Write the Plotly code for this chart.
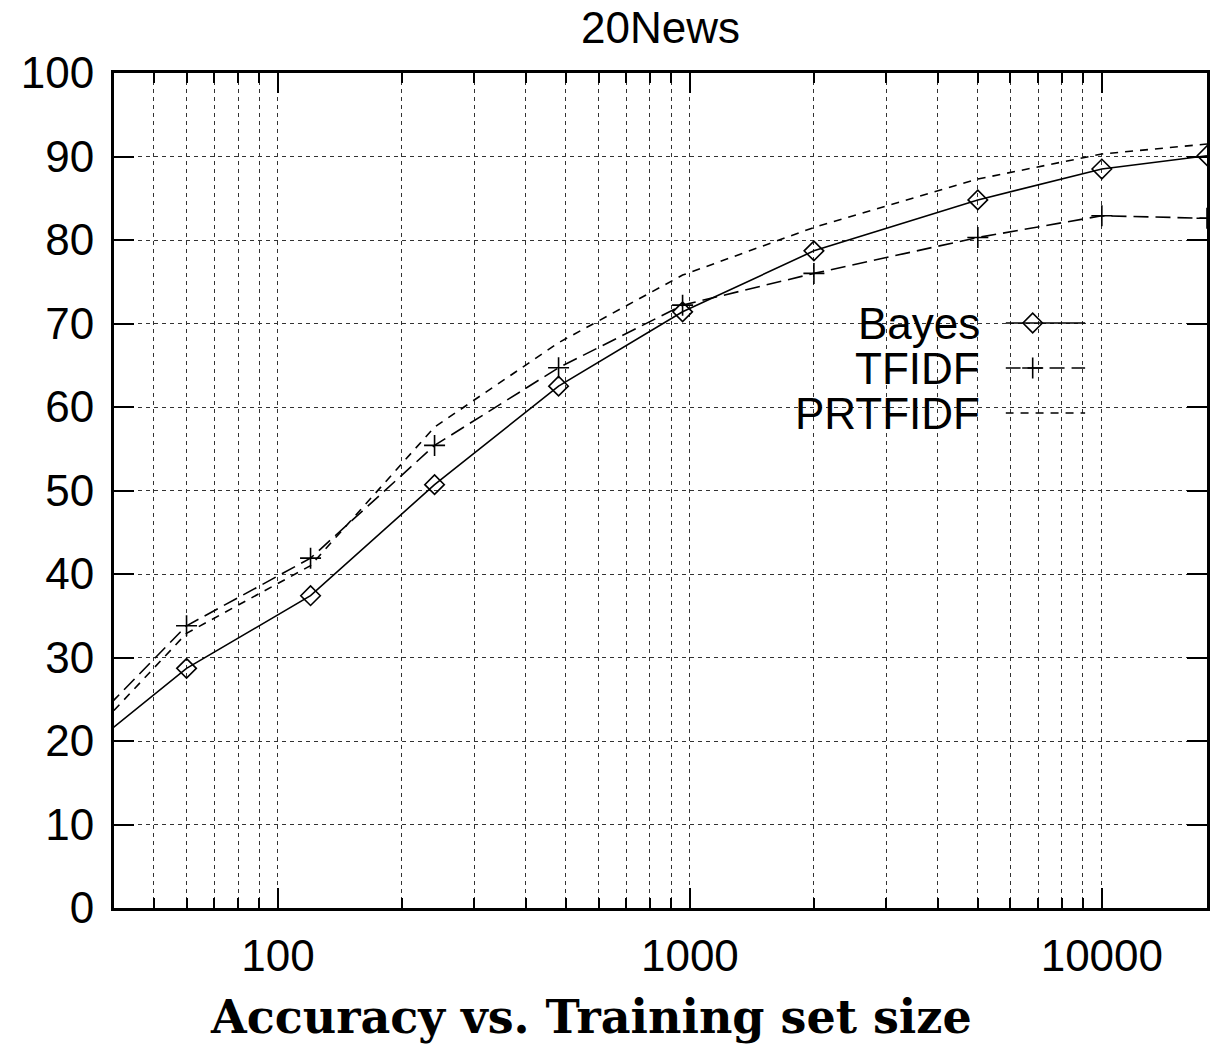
import plotly.graph_objects as go

# ---- data ----
train_size = [30, 60, 120, 240, 480, 960, 2000, 5000, 10000, 18000]
bayes = [16.7, 28.7, 37.4, 50.7, 62.5, 71.4, 78.7, 84.8, 88.5, 90.1]
tfidf = [18.6, 33.8, 41.9, 55.4, 64.7, 72.2, 76.0, 80.3, 82.9, 82.6]
prtfidf = [17.1, 32.9, 41.0, 57.6, 67.7, 75.8, 81.5, 87.3, 90.3, 91.5]

series_names = ["Bayes", "TFIDF", "PRTFIDF"]
x_tick_labels = ["100", "1000", "10000"]

# ---- styles ----
SANS = "Liberation Sans, Arial, sans-serif"
SERIF = "DejaVu Serif, Liberation Serif, serif"
FS = 44
styles = {
    "Bayes": dict(dash="solid", symbol="diamond-open", size=15),
    "TFIDF": dict(dash="15px,7px", symbol="cross-thin-open", size=15),
    "PRTFIDF": dict(dash="8px,7px", symbol=None, size=0),
}
values = {"Bayes": bayes, "TFIDF": tfidf, "PRTFIDF": prtfidf}

fig = go.Figure()
for name in series_names:
    st = styles[name]
    fig.add_trace(go.Scatter(
        x=train_size, y=values[name], name=name,
        mode="lines+markers" if st["symbol"] else "lines",
        line=dict(color="black", width=1.6, dash=st["dash"]),
        marker=dict(symbol=st["symbol"] or "circle", size=st["size"], color="black",
                    line=dict(color="black", width=1.6)),
        showlegend=False,
    ))

# ---- legend (text left of sample, gnuplot style) ----
legend_rows_y = [70.06, 64.67, 59.28]
legend_sample_x = [0, 0.34, 1]
for name, ly in zip(series_names, legend_rows_y):
    st = styles[name]
    fig.add_trace(go.Scatter(
        x=legend_sample_x, y=[ly] * 3, xaxis="x2", yaxis="y2",
        mode="lines+markers" if st["symbol"] else "lines",
        line=dict(color="black", width=1.6, dash=st["dash"]),
        marker=dict(symbol=st["symbol"] or "circle", size=st["size"], color="black",
                    opacity=[0, 1, 0], line=dict(color="black", width=1.6)),
        showlegend=False, hoverinfo="skip",
    ))
    fig.add_annotation(text=name, xref="paper", yref="y", x=0.7945, y=ly,
                       xanchor="right", yanchor="middle", showarrow=False,
                       font=dict(family=SANS, size=FS, color="black"))

grid_dash = "4px,4px"
fig.update_layout(
    width=1211, height=1047,
    margin=dict(l=114, r=1, t=73, b=139),
    paper_bgcolor="white", plot_bgcolor="rgba(0,0,0,0)",
    title=dict(text="20News", x=0.5, xref="paper", xanchor="center",
               y=1 - 28 / 1047, yref="container", yanchor="middle",
               font=dict(family=SANS, size=FS, color="black")),
    xaxis=dict(
        type="log", range=[1.60206, 4.25527],
        tickmode="array", tickvals=[100, 1000, 10000], ticktext=x_tick_labels,
        ticks="inside", ticklen=20, tickwidth=2, tickcolor="black",
        showline=True, linewidth=3, linecolor="black", mirror="allticks",
        showgrid=True, gridcolor="#333", gridwidth=1, griddash=grid_dash,
        minor=dict(tickmode="linear", tick0=0, dtick="D1", ticks="inside", ticklen=10,
                   tickwidth=2, tickcolor="black", showgrid=True,
                   gridcolor="#333", gridwidth=1, griddash=grid_dash),
        tickfont=dict(family=SANS, size=FS, color="black"),
        ticklabelstandoff=7, zeroline=False,
    ),
    yaxis=dict(
        range=[0, 100], tickmode="linear", tick0=0, dtick=10,
        ticks="inside", ticklen=20, tickwidth=2, tickcolor="black",
        showline=True, linewidth=3, linecolor="black", mirror="allticks",
        showgrid=True, gridcolor="#333", gridwidth=1, griddash=grid_dash,
        tickfont=dict(family=SANS, size=FS, color="black"),
        ticklabelstandoff=8, zeroline=False,
    ),
    xaxis2=dict(domain=[0.8157, 0.8887], range=[0, 1], anchor="y2",
                visible=False, showgrid=False, zeroline=False),
    yaxis2=dict(domain=[0, 1], range=[0, 100], anchor="x2",
                visible=False, showgrid=False, zeroline=False),
)

fig.add_annotation(text="<b>Accuracy vs. Training set size</b>", xref="paper", yref="paper",
                   x=0.436, y=-0.1305, xanchor="center", yanchor="middle", showarrow=False,
                   font=dict(family=SERIF, size=46, color="black"))

fig.write_html("out.html", config={"displayModeBar": False},
               post_script="document.body.style.margin='0';")
